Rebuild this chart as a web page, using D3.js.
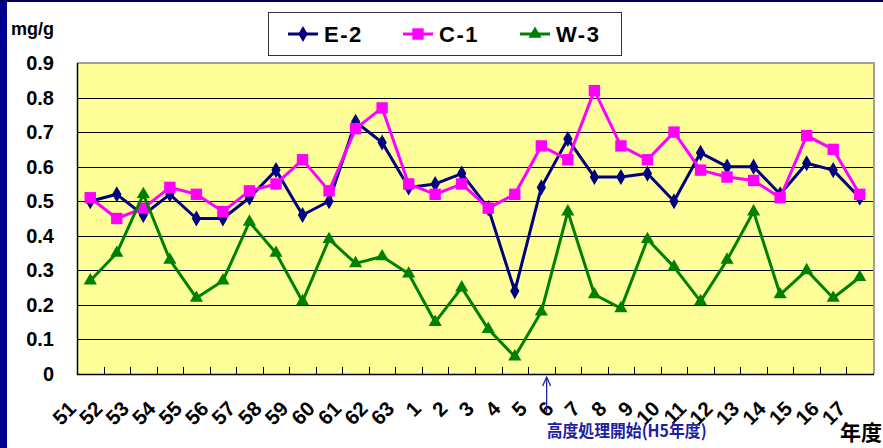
<!DOCTYPE html>
<meta charset="utf-8">
<style>
body { margin: 0; background: #fff; }
svg { display: block; font-family: "Liberation Sans", Arial, sans-serif; }
</style>
<body>
<script src="https://cdn.jsdelivr.net/npm/d3@7"></script>
<script>
// fiscal years: Showa 51-63, then Heisei 1-17
var years = ["51","52","53","54","55","56","57","58","59","60","61","62","63",
             "1","2","3","4","5","6","7","8","9","10","11","12","13","14","15","16","17"]
var e2 = [0.50,0.52,0.46,0.52,0.45,0.45,0.51,0.59,0.46,0.50,0.73,0.67,0.54,
          0.55,0.58,0.48,0.24,0.54,0.68,0.57,0.57,0.58,0.50,0.64,0.60,0.60,0.52,0.61,0.59,0.51]
var c1 = [0.51,0.45,0.48,0.54,0.52,0.47,0.53,0.55,0.62,0.53,0.71,0.77,0.55,
          0.52,0.55,0.48,0.52,0.66,0.62,0.82,0.66,0.62,0.70,0.59,0.57,0.56,0.51,0.69,0.65,0.52]
var w3 = [0.27,0.35,0.52,0.33,0.22,0.27,0.44,0.35,0.21,0.39,0.32,0.34,0.29,
          0.15,0.25,0.13,0.05,0.18,0.47,0.23,0.19,0.39,0.31,0.21,0.33,0.47,0.23,0.30,0.22,0.28]
var yTicks = [0,0.1,0.2,0.3,0.4,0.5,0.6,0.7,0.8,0.9]
var startYear = "5"   // 高度処理開始 H5

var series = [
  {name: "E-2", values: e2, color: "#000080", symbol: d3.symbolDiamond, size: 75},
  {name: "C-1", values: c1, color: "#ff00ff", symbol: d3.symbolSquare, size: 130},
  {name: "W-3", values: w3, color: "#008000", symbol: d3.symbolTriangle, size: 75}
]

var W = 883, H = 448
var plot = {left: 77, right: 873, top: 63, bottom: 374}

var svg = d3.select("body").append("svg").attr("width", W).attr("height", H)

// frame strips
svg.append("rect").attr("x", 0).attr("y", 0).attr("width", 7).attr("height", H).attr("fill", "#00008f")
svg.append("rect").attr("x", 0).attr("y", 0).attr("width", W).attr("height", 2).attr("fill", "#00005a")

var x = d3.scaleBand().domain(years).range([plot.left, plot.right]).padding(0)
var xi = d3.scaleLinear().domain([0, years.length]).range([plot.left, plot.right])
var y = d3.scaleLinear().domain([0, 0.9]).range([plot.bottom, plot.top])
var cx = function(i) { return x(years[i]) + x.bandwidth() / 2 }

// plot area with grey shadow on top/right
svg.append("rect")
  .attr("x", plot.left).attr("y", plot.top - 1)
  .attr("width", plot.right - plot.left + 2).attr("height", plot.bottom - plot.top + 1)
  .attr("fill", "#a0a0a0")
svg.append("rect")
  .attr("x", plot.left).attr("y", plot.top + 1)
  .attr("width", plot.right - plot.left).attr("height", plot.bottom - plot.top - 1)
  .attr("fill", "#ffff99")

// gridlines
svg.append("g").selectAll("line")
  .data(yTicks.filter(function(d) { return d > 0 && d < 0.9 }))
  .enter().append("line")
  .attr("x1", plot.left).attr("x2", plot.right)
  .attr("y1", function(d) { return Math.round(y(d)) + 0.5 })
  .attr("y2", function(d) { return Math.round(y(d)) + 0.5 })
  .attr("stroke", "#000").attr("stroke-width", 1)

// axes lines
svg.append("line").attr("x1", plot.left + 0.5).attr("x2", plot.left + 0.5)
  .attr("y1", plot.top).attr("y2", plot.bottom + 1).attr("stroke", "#000").attr("stroke-width", 1.5)
svg.append("line").attr("x1", plot.left).attr("x2", plot.right + 1)
  .attr("y1", plot.bottom + 0.5).attr("y2", plot.bottom + 0.5).attr("stroke", "#000").attr("stroke-width", 1.5)

// inward ticks on the category axis
svg.append("g").selectAll("line")
  .data(d3.range(1, years.length))
  .enter().append("line")
  .attr("x1", function(d) { return Math.round(xi(d)) + 0.5 })
  .attr("x2", function(d) { return Math.round(xi(d)) + 0.5 })
  .attr("y1", plot.bottom).attr("y2", plot.bottom - 7)
  .attr("stroke", "#000")

// y labels
svg.append("g").selectAll("text")
  .data(yTicks).enter().append("text")
  .attr("x", 54).attr("y", function(d) { return y(d) + 7 })
  .attr("text-anchor", "end")
  .attr("font-size", 20).attr("font-weight", "bold")
  .text(function(d) { return d === 0 ? "0" : d3.format(".1f")(d) })

svg.append("text").attr("x", 11).attr("y", 35)
  .attr("font-size", 18).attr("font-weight", "bold").text("mg/g")

// x labels
svg.append("g").selectAll("text")
  .data(years).enter().append("text")
  .attr("transform", function(d, i) { return "translate(" + (cx(i) - 13) + ",410) rotate(-45)" })
  .attr("text-anchor", "end")
  .attr("font-size", 20.5).attr("font-weight", "bold")
  .text(function(d) { return d })

svg.append("text").attr("x", 840).attr("y", 440)
  .attr("font-family", "'Noto Sans CJK JP'")
  .attr("font-size", 21).attr("font-weight", "bold").text("年度")

// series lines + markers
series.forEach(function(s) {
  var line = d3.line().x(function(d, i) { return cx(i) }).y(function(d) { return y(d) })
  svg.append("path").datum(s.values)
    .attr("d", line).attr("fill", "none")
    .attr("stroke", s.color).attr("stroke-width", 3).attr("stroke-linejoin", "round")
  svg.append("g").selectAll("path")
    .data(s.values).enter().append("path")
    .attr("d", d3.symbol().type(s.symbol).size(s.size))
    .attr("transform", function(d, i) { return "translate(" + cx(i) + "," + y(d) + ")" })
    .attr("fill", s.color)
})

// annotation arrow
var ax = cx(years.indexOf(startYear)) + x.bandwidth() * 0.2
svg.append("line").attr("x1", ax).attr("x2", ax).attr("y1", 378).attr("y2", 412)
  .attr("stroke", "#2020a0").attr("stroke-width", 1.3)
svg.append("path").attr("d", "M" + (ax - 4) + ",386 L" + ax + ",377 L" + (ax + 4) + ",386")
  .attr("fill", "none").attr("stroke", "#2020a0").attr("stroke-width", 1.3)
svg.append("text").attr("x", ax).attr("y", 437)
  .attr("font-family", "'Noto Sans CJK JP'")
  .attr("font-size", 17).attr("font-weight", "bold").attr("fill", "#2020a0")
  .attr("textLength", 160).attr("lengthAdjust", "spacingAndGlyphs")
  .text("高度処理開始(H5年度)")

// legend
var lg = svg.append("g")
lg.append("rect").attr("x", 268.5).attr("y", 12.5).attr("width", 353).attr("height", 43)
  .attr("fill", "#fff").attr("stroke", "#333").attr("stroke-width", 1)
var lx = [288, 403, 520]
series.forEach(function(s, i) {
  var g = lg.append("g").attr("transform", "translate(" + lx[i] + ",34)")
  g.append("line").attr("x1", 0).attr("x2", 30).attr("stroke", s.color).attr("stroke-width", 3)
  g.append("path").attr("d", d3.symbol().type(s.symbol).size(s.size)).attr("transform", "translate(15,0)").attr("fill", s.color)
  g.append("text").attr("x", 36).attr("y", 8)
    .attr("font-size", 22).attr("font-weight", "bold").attr("letter-spacing", 1.5)
    .text(s.name)
})
</script>
</body>
